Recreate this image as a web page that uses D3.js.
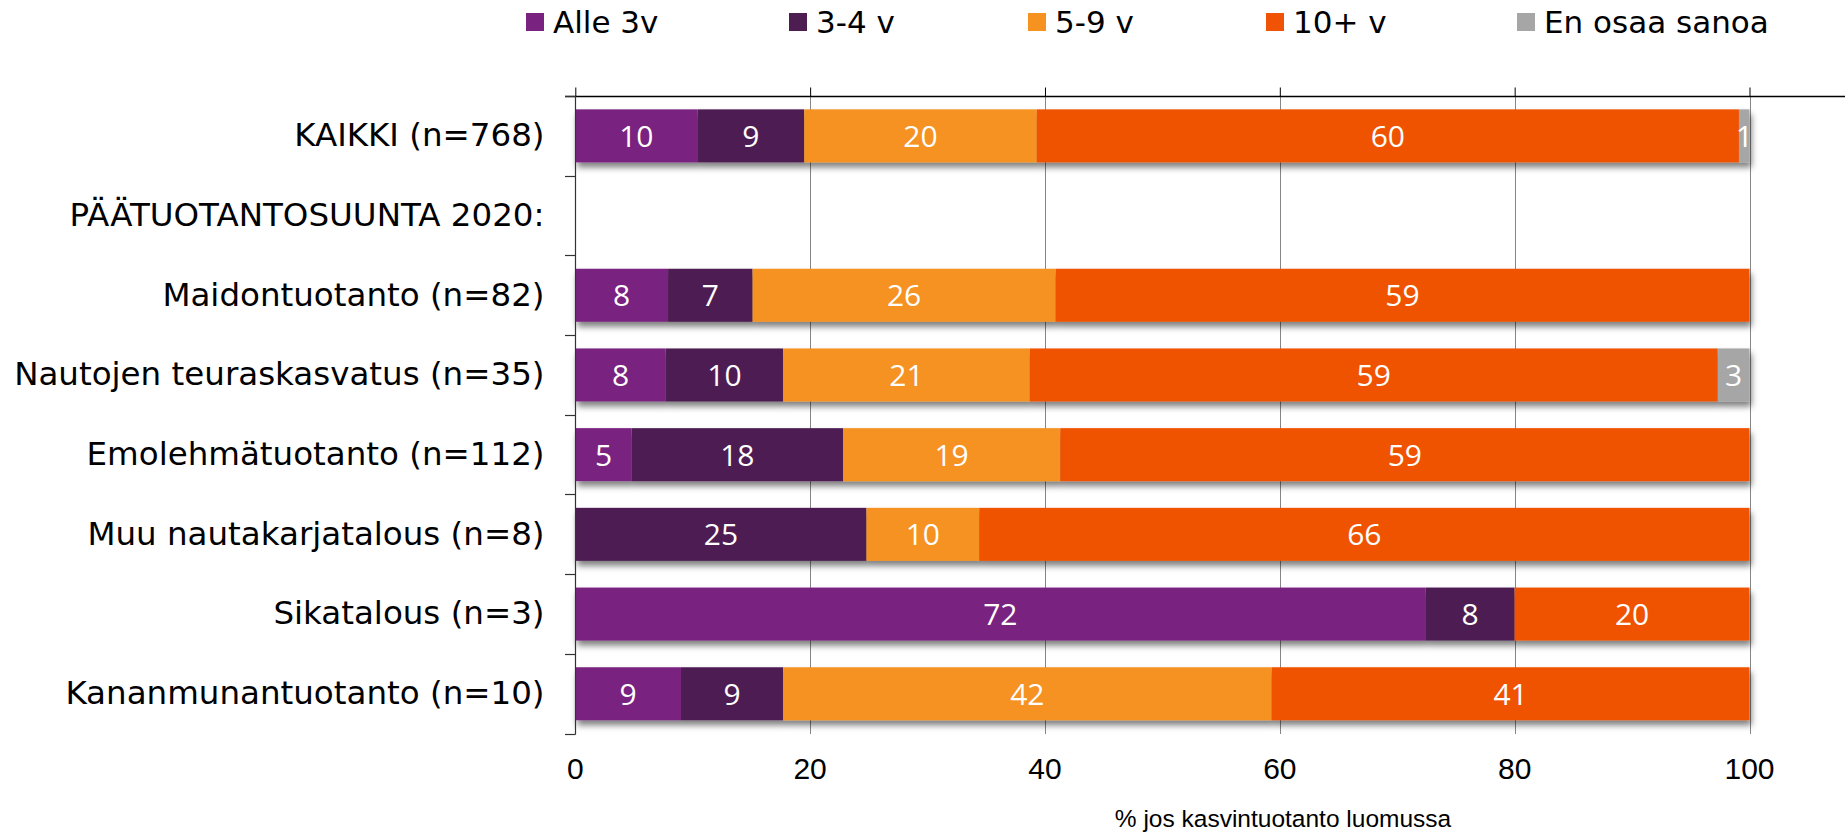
<!DOCTYPE html>
<html>
<head>
<meta charset="utf-8">
<script src="https://cdn.jsdelivr.net/npm/d3@7/dist/d3.min.js"></script>
<style>
  html, body { margin: 0; padding: 0; background: #fff; }
  svg { display: block; }
</style>
</head>
<body>
<svg id="chart" width="1845" height="835"></svg>
<script>
// ---- Data ----
const categories = [
  "KAIKKI (n=768)",
  "PÄÄTUOTANTOSUUNTA 2020:",
  "Maidontuotanto (n=82)",
  "Nautojen teuraskasvatus (n=35)",
  "Emolehmätuotanto (n=112)",
  "Muu nautakarjatalous (n=8)",
  "Sikatalous (n=3)",
  "Kananmunantuotanto (n=10)"
];
const seriesNames = ["Alle 3v", "3-4 v", "5-9 v", "10+ v", "En osaa sanoa"];
const alle3v   = [10.4, 0, 7.9, 7.7, 4.8, 0,    72.4, 9.0];
const v3to4    = [9.1,  0, 7.2, 10.0, 18.0, 24.8, 7.6, 8.7];
const v5to9    = [19.8, 0, 25.8, 21.0, 18.5, 9.6, 0,   41.6];
const v10plus  = [59.8, 0, 59.1, 58.6, 58.7, 65.6, 20.0, 40.7];
const enOsaa   = [0.9,  0, 0,    2.7,  0,    0,    0,    0];
const xTicks = [0, 20, 40, 60, 80, 100];
const axisTitle = "% jos kasvintuotanto luomussa";
const colors = ["#7a2280", "#4d1d52", "#f59220", "#f05206", "#a6a6a6"];

// ---- Layout ----
const svg = d3.select("#chart");
const x = d3.scaleLinear().domain([0, 100]).range([575.3, 1749.5]);
const y = d3.scaleBand().domain(categories).range([96, 733.6]).paddingInner(0.335).paddingOuter(0.1675);
const seriesValues = [alle3v, v3to4, v5to9, v10plus, enOsaa];

const defs = svg.append("defs");
const f = defs.append("filter").attr("id", "shadow").attr("x", "-5%").attr("y", "-30%").attr("width", "110%").attr("height", "180%");
f.append("feDropShadow").attr("dx", 2).attr("dy", 5).attr("stdDeviation", 3)
  .attr("flood-color", "#000").attr("flood-opacity", 0.5);

// gridlines
svg.append("g").selectAll("line").data(xTicks.filter(d => d > 0)).join("line")
  .attr("x1", d => Math.round(x(d)) + 0.5).attr("x2", d => Math.round(x(d)) + 0.5)
  .attr("y1", 96).attr("y2", 734)
  .attr("stroke", "#868686").attr("stroke-width", 1);

// top axis (ticks upward)
const topAxis = d3.axisTop(x).tickValues(xTicks).tickSize(9).tickFormat("");
const gTop = svg.append("g").attr("transform", "translate(0,96.5)").call(topAxis);
gTop.select(".domain").remove();
gTop.selectAll(".tick line").attr("stroke", "#000");
svg.append("line").attr("x1", 565).attr("x2", 1845).attr("y1", 96.5).attr("y2", 96.5)
  .attr("stroke", "#000").attr("stroke-width", 1.5);

// stacked data
const rows = categories.map((c, i) => {
  let acc = 0;
  return seriesValues.map((arr, s) => {
    const v = arr[i];
    const seg = { cat: c, s, x0: acc, x1: acc + v, v };
    acc += v;
    return seg;
  });
});

const rowG = svg.append("g").selectAll("g").data(rows).join("g")
  .attr("filter", "url(#shadow)");
rowG.selectAll("rect").data(d => d.filter(s => s.v > 0)).join("rect")
  .attr("x", d => x(d.x0))
  .attr("y", d => y(d.cat))
  .attr("width", d => x(d.x1) - x(d.x0))
  .attr("height", y.bandwidth())
  .attr("fill", d => colors[d.s]);

// value labels
svg.append("g").selectAll("g").data(rows).join("g")
  .selectAll("text").data(d => d.filter(s => s.v > 0)).join("text")
  .attr("x", d => (x(d.x0) + x(d.x1)) / 2)
  .attr("y", d => y(d.cat) + y.bandwidth() / 2 + 11)
  .attr("text-anchor", "middle")
  .attr("font-family", "'Open Sans', sans-serif")
  .attr("font-size", 30)
  .attr("fill", "#fff")
  .text(d => Math.round(d.v));

// left axis
const leftAxis = d3.axisLeft(y).tickSize(0).tickPadding(31);
const gLeft = svg.append("g").attr("transform", "translate(575.5,0)").call(leftAxis);
gLeft.select(".domain").remove();
gLeft.selectAll(".tick text")
  .attr("font-family", "'DejaVu Sans', Verdana, sans-serif")
  .attr("font-size", 32.5).attr("fill", "#000");
svg.append("line").attr("x1", 575.5).attr("x2", 575.5).attr("y1", 96).attr("y2", 734.5)
  .attr("stroke", "#333").attr("stroke-width", 1.2);
// band boundary ticks
const bounds = categories.map(c => y(c) - y.step() * y.paddingInner() / 2).concat([734]);
svg.append("g").selectAll("line").data(bounds).join("line")
  .attr("x1", 565).attr("x2", 575.5)
  .attr("y1", d => Math.round(d) + 0.5).attr("y2", d => Math.round(d) + 0.5)
  .attr("stroke", "#333").attr("stroke-width", 1.2);

// bottom tick labels
svg.append("g").selectAll("text").data(xTicks).join("text")
  .attr("x", d => x(d)).attr("y", 779)
  .attr("text-anchor", "middle")
  .attr("font-family", "'Liberation Sans', Arial, sans-serif")
  .attr("font-size", 30).attr("fill", "#000")
  .text(d => d);

// axis title
svg.append("text").attr("x", 1283).attr("y", 827)
  .attr("text-anchor", "middle")
  .attr("font-family", "'Liberation Sans', Arial, sans-serif")
  .attr("font-size", 24.5).attr("fill", "#000")
  .text(axisTitle);

// legend
const legendX = [526, 789, 1028, 1266, 1517];
const lg = svg.append("g").selectAll("g").data(seriesNames).join("g")
  .attr("transform", (d, i) => `translate(${legendX[i]},0)`);
lg.append("rect").attr("x", 0).attr("y", 13).attr("width", 18).attr("height", 18)
  .attr("fill", (d, i) => colors[i]);
lg.append("text").attr("x", 27).attr("y", 33)
  .attr("font-family", "'DejaVu Sans', Verdana, sans-serif")
  .attr("font-size", 31).attr("fill", "#000")
  .text(d => d);
</script>
</body>
</html>
